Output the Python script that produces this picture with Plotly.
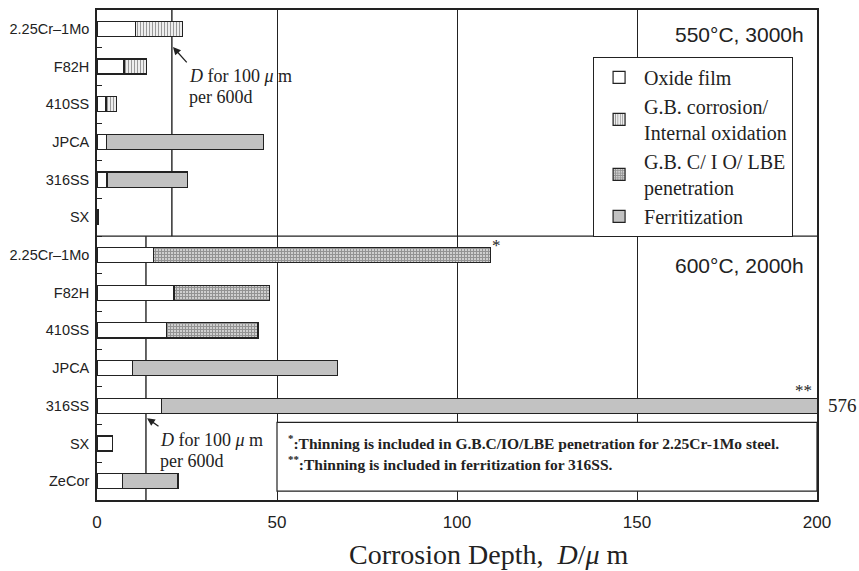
import plotly.graph_objects as go

# ---------------- data ----------------
labels_550 = ["2.25Cr\u20131Mo", "F82H", "410SS", "JPCA", "316SS", "SX"]
labels_600 = ["2.25Cr\u20131Mo", "F82H", "410SS", "JPCA", "316SS", "SX", "ZeCor"]

oxide_550 = [10.8, 7.5, 2.5, 2.7, 2.8, 0.5]
gbcorr_550 = [13.0, 6.3, 3.0, None, None, None]
gbpen_550 = [None, None, None, None, None, None]
ferr_550 = [None, None, None, 43.5, 22.3, None]

oxide_600 = [15.8, 21.4, 19.4, 9.8, 17.9, 4.2, 7.1]
gbcorr_600 = [None, None, None, None, None, None, None]
gbpen_600 = [93.4, 26.6, 25.3, None, None, None, None]
ferr_600 = [None, None, None, 57.0, 558.1, None, 15.4]

ref_depth_550 = 20.8   # D for 100 um per 600 d, 3000 h
ref_depth_600 = 13.6   # D for 100 um per 600 d, 2000 h
total_316_600 = 576

x_ticks = [0, 50, 100, 150, 200]

# ---------------- figure ----------------
labels = labels_550 + labels_600
ypos = list(range(len(labels)))
n_top = len(labels_550)

SERIF = "Liberation Serif"
SANS = "Liberation Sans"
INK = "#222222"

fig = go.Figure()
series = [
    ("Oxide film", oxide_550 + oxide_600, dict(color="white")),
    ("G.B. corrosion/<br>Internal oxidation", gbcorr_550 + gbcorr_600,
     dict(color="white", pattern=dict(shape="|", size=3, solidity=0.45, fgcolor="#333", bgcolor="white"))),
    ("G.B. C/ I O/ LBE<br>penetration", gbpen_550 + gbpen_600,
     dict(color="white", pattern=dict(shape="+", size=3, solidity=0.55, fgcolor="#555", bgcolor="#cfcfcf"))),
    ("Ferritization", ferr_550 + ferr_600, dict(color="#c2c2c2")),
]
for name, vals, mk in series:
    mk = dict(mk)
    mk["line"] = dict(color=INK, width=1.2)
    fig.add_trace(go.Bar(
        x=vals, y=ypos, orientation="h", name=name, width=0.4,
        marker=mk, hoverinfo="skip",
    ))

shapes = [
    dict(type="line", xref="x", yref="y", x0=ref_depth_550, x1=ref_depth_550,
         y0=-0.5, y1=n_top - 0.5, line=dict(color=INK, width=1.4), layer="below"),
    dict(type="line", xref="x", yref="y", x0=ref_depth_600, x1=ref_depth_600,
         y0=n_top - 0.5, y1=len(labels) - 0.5, line=dict(color=INK, width=1.4), layer="below"),
    dict(type="line", xref="paper", yref="y", x0=0, x1=1, y0=n_top - 0.5, y1=n_top - 0.5,
         line=dict(color=INK, width=1.4), layer="above"),
    dict(type="rect", xref="x", yref="paper", x0=50, x1=200, y0=0.018, y1=0.1585,
         line=dict(color=INK, width=1.2), fillcolor="white", layer="above"),
]

annotations = [
    dict(text="550°C, 3000h", xref="paper", yref="paper", x=0.985, y=0.949,
         xanchor="right", yanchor="middle", showarrow=False, font=dict(family=SANS, size=21, color=INK)),
    dict(text="600°C, 2000h", xref="paper", yref="paper", x=0.985, y=0.478,
         xanchor="right", yanchor="middle", showarrow=False, font=dict(family=SANS, size=21, color=INK)),
    # arrows
    dict(text="", x=ref_depth_550 + 0.3, y=0.48, xref="x", yref="y",
         ax=ref_depth_550 + 4.5, ay=0.93, axref="x", ayref="y",
         showarrow=True, arrowhead=2, arrowsize=1.2, arrowwidth=1.3, arrowcolor=INK),
    dict(text="", x=ref_depth_600 + 0.3, y=10.33, xref="x", yref="y",
         ax=ref_depth_600 + 3.9, ay=10.57, axref="x", ayref="y",
         showarrow=True, arrowhead=2, arrowsize=1.2, arrowwidth=1.3, arrowcolor=INK),
    dict(text="<i>D</i> for 100 <i>μ</i> m", x=25, y=1.244, xref="x", yref="y", xanchor="left",
         showarrow=False, font=dict(family=SERIF, size=18, color=INK)),
    dict(text="per 600d", x=25, y=1.80, xref="x", yref="y", xanchor="left",
         showarrow=False, font=dict(family=SERIF, size=18, color=INK)),
    dict(text="<i>D</i> for 100 <i>μ</i> m", x=16.9, y=10.915, xref="x", yref="y", xanchor="left",
         showarrow=False, font=dict(family=SERIF, size=18, color=INK)),
    dict(text="per 600d", x=16.9, y=11.47, xref="x", yref="y", xanchor="left",
         showarrow=False, font=dict(family=SERIF, size=18, color=INK)),
    # footnote marks
    dict(text="*", x=oxide_600[0] + gbpen_600[0], y=5.76, xref="x", yref="y", xanchor="left",
         showarrow=False, font=dict(family=SERIF, size=17, color=INK)),
    dict(text="**", x=199.2, y=9.59, xref="x", yref="y", xanchor="right",
         showarrow=False, font=dict(family=SERIF, size=17, color=INK)),
    dict(text=str(total_316_600), x=1.0125, y=10.0, xref="paper", yref="y", xanchor="left",
         showarrow=False, font=dict(family=SERIF, size=19, color=INK)),
    # axis title
    dict(text="Corrosion Depth,  <i>D</i>/<i>μ</i> m", x=0.544, y=-0.112, xref="paper", yref="paper",
         xanchor="center", yanchor="middle", showarrow=False,
         font=dict(family=SERIF, size=28, color=INK)),
    dict(text="<b><sup>*</sup>:Thinning is included in G.B.C/IO/LBE penetration for 2.25Cr-1Mo steel.</b>",
         x=52.5, y=0.118, xref="x", yref="paper", xanchor="left", yanchor="middle",
         showarrow=False, font=dict(family=SERIF, size=15.5, color=INK)),
    dict(text="<b><sup>**</sup>:Thinning is included in ferritization for 316SS.</b>",
         x=52.5, y=0.075, xref="x", yref="paper", xanchor="left", yanchor="middle",
         showarrow=False, font=dict(family=SERIF, size=15.5, color=INK)),
]

fig.update_layout(
    width=859, height=571,
    margin=dict(l=97, r=42, t=8, b=71),
    barmode="stack",
    plot_bgcolor="white", paper_bgcolor="white",
    shapes=shapes, annotations=annotations,
    showlegend=True,
    legend=dict(x=0.689, y=0.9045, xanchor="left", yanchor="top",
                bordercolor=INK, borderwidth=1, bgcolor="white",
                font=dict(family=SERIF, size=20, color=INK), traceorder="normal",
                itemwidth=40),
    xaxis=dict(range=[0, 200], tickvals=x_ticks, ticks="", showgrid=True,
               gridcolor=INK, gridwidth=1.3, zeroline=False,
               showline=True, linecolor=INK, linewidth=1.6, mirror=True,
               tickfont=dict(family=SANS, size=17, color=INK), ticklabelstandoff=6),
    yaxis=dict(range=[len(labels) - 0.5, -0.5], tickvals=ypos, ticktext=labels,
               ticks="", showgrid=False, zeroline=False,
               showline=True, linecolor=INK, linewidth=1.6, mirror=True,
               tickfont=dict(family=SANS, size=14.5, color=INK), ticklabelstandoff=3,
               minor=dict(tickvals=[i + 0.5 for i in range(len(labels) - 1)],
                          ticks="inside", ticklen=5, tickcolor=INK, tickwidth=1.2)),
)

fig.write_html("out.html", config={"displayModeBar": False},
               post_script="document.body.style.margin='0px';document.body.style.padding='0px';")
